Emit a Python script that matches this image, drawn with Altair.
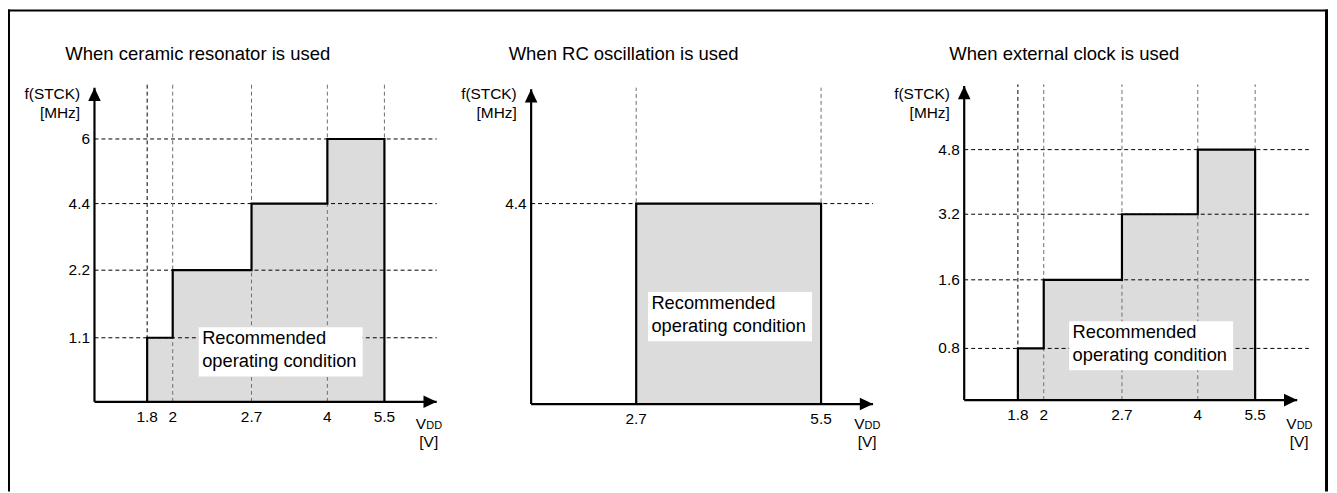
import altair as alt
import pandas as pd

# ---------------- data ----------------
TITLES = ["When ceramic resonator is used",
          "When RC oscillation is used",
          "When external clock is used"]
VOLTS = [[1.8, 2, 2.7, 4, 5.5],
         [2.7, 5.5],
         [1.8, 2, 2.7, 4, 5.5]]
FREQS = [[1.1, 2.2, 4.4, 6],
         [4.4],
         [0.8, 1.6, 3.2, 4.8]]
V_LABELS = [["1.8", "2", "2.7", "4", "5.5"],
            ["2.7", "5.5"],
            ["1.8", "2", "2.7", "4", "5.5"]]
F_LABELS = [["1.1", "2.2", "4.4", "6"],
            ["4.4"],
            ["0.8", "1.6", "3.2", "4.8"]]
Y_TITLE = ["f(STCK)", "[MHz]"]
X_TITLE_MAIN = "V"
X_TITLE_SUB = "DD"
X_UNIT = "[V]"
NOTE = ["Recommended", "operating condition"]
NOTE_V = [3.2, 4.12, 3.2]
NOTE_F = [0.857, 1.92, 0.831]

# axis extension values (origin, arrow tip, grid end)
X_ORIGIN = 1.0
X_ARROW = 6.3
X_GRID = 6.5
Y_ARROW = [7.5, 6.0, 6.0]
Y_GRID = [7.7, 6.2, 6.2]

# ---------------- layout (piecewise scale ranges, px) ----------------
X_RANGE = [
    [87, 140, 165.7, 245, 321.3, 378.7, 431.3, 431.3],
    [526.3, 632, 818, 870.3, 870.3],
    [962, 1016, 1042, 1120.7, 1197, 1254.7, 1297, 1308.7],
]
Y_RANGE = [
    [394.7, 330.3, 262.3, 195.3, 130.3, 78.7, 75.3],
    [397, 195.3, 80.3, 78.7],
    [393, 341, 272, 206, 141, 77, 75.3],
]
TITLE_DX = [-29.3, -22.6, -15]
VDD_DX = [-21, -19, -11]
UNIT_DX = [-8, -6, 2]

FONT = "Liberation Sans"
UP = "M0,-1L0.95,1L-0.95,1Z"
RIGHT = "M1,0L-1,-0.95L-1,0.95Z"
ARROW_SIZE = 177
ARROW_H = 6.65


def panel(i):
    volts, freqs = VOLTS[i], FREQS[i]
    xs = alt.Scale(domain=[X_ORIGIN] + volts + [X_ARROW, X_GRID],
                   range=X_RANGE[i], nice=False, zero=False)
    ys = alt.Scale(domain=[0] + freqs + [Y_ARROW[i], Y_GRID[i]],
                   range=Y_RANGE[i], nice=False, zero=False)

    def X(f):
        return alt.X(f, type="quantitative", scale=xs, axis=None)

    def Y(f):
        return alt.Y(f, type="quantitative", scale=ys, axis=None)

    steps = pd.DataFrame({"v0": volts[:-1], "v1": volts[1:], "f": freqs, "base": 0})
    fill = alt.Chart(steps).mark_rect(fill="#dcdcdc").encode(
        x=X("v0"), x2=alt.X2("v1"), y=Y("base"), y2=alt.Y2("f"))

    hg = pd.DataFrame({"f": freqs, "xa": X_ORIGIN, "xb": X_GRID})
    hgrid = alt.Chart(hg).mark_rule(color="black", strokeWidth=1, strokeDash=[4, 3]).encode(
        x=X("xa"), x2=alt.X2("xb"), y=Y("f"))

    vg = pd.DataFrame({"v": volts, "ya": 0, "yb": Y_GRID[i]})
    vgrid = alt.Chart(vg).mark_rule(strokeWidth=1, strokeDash=[4, 3]).encode(
        x=X("v"), y=Y("ya"), y2=alt.Y2("yb"),
        color=alt.condition(alt.datum.v == 1.8, alt.value("black"), alt.value("#6e6e6e")))

    pv = [volts[0]] + volts[:-1] + [volts[-1]]
    pf = [0] + freqs + [0]
    ol = pd.DataFrame({"v": pv, "f": pf, "i": list(range(len(pv)))})
    outline = alt.Chart(ol).mark_line(interpolate="step-after", color="black",
                                      strokeWidth=2.2).encode(
        x=X("v"), y=Y("f"), order=alt.Order("i:Q"))

    ax = pd.DataFrame({"xo": [X_ORIGIN], "xa": [X_ARROW], "yo": [0], "ya": [Y_ARROW[i]],
                       "ax": [NOTE_V[i]], "ay": [NOTE_F[i]]})
    xaxis = alt.Chart(ax).mark_rule(color="black", strokeWidth=2.2).encode(
        x=X("xo"), x2=alt.X2("xa"), y=Y("yo"))
    yaxis = alt.Chart(ax).mark_rule(color="black", strokeWidth=2.2).encode(
        x=X("xo"), y=Y("yo"), y2=alt.Y2("ya"))
    up = alt.Chart(ax).mark_point(shape=UP, filled=True, size=ARROW_SIZE, color="black",
                                  opacity=1, yOffset=ARROW_H).encode(x=X("xo"), y=Y("ya"))
    right = alt.Chart(ax).mark_point(shape=RIGHT, filled=True, size=ARROW_SIZE, color="black",
                                     opacity=1, xOffset=-ARROW_H).encode(x=X("xa"), y=Y("yo"))

    xl = pd.DataFrame({"v": volts, "label": V_LABELS[i], "base": 0})
    xlab = alt.Chart(xl).mark_text(font=FONT, fontSize=15.5, color="black", dy=15,
                                   baseline="middle").encode(
        x=X("v"), y=Y("base"), text="label:N")
    yl = pd.DataFrame({"f": freqs, "label": F_LABELS[i], "xo": X_ORIGIN})
    ylab = alt.Chart(yl).mark_text(font=FONT, fontSize=15.5, color="black", align="right",
                                   dx=-4.5, baseline="middle").encode(
        x=X("xo"), y=Y("f"), text="label:N")

    ytitle = alt.Chart(ax).mark_text(text=Y_TITLE, font=FONT, fontSize=15.5, color="black",
                                     align="right", baseline="middle", dx=-14.5,
                                     lineHeight=19.5).encode(x=X("xo"), y=alt.value(85))
    title = alt.Chart(ax).mark_text(text=TITLES[i], font=FONT, fontSize=18.6, color="black",
                                    align="left", baseline="middle",
                                    dx=TITLE_DX[i]).encode(x=X("xo"), y=alt.value(45))
    vmain = alt.Chart(ax).mark_text(text=X_TITLE_MAIN, font=FONT, fontSize=15.5, color="black",
                                    align="left", baseline="alphabetic",
                                    dx=VDD_DX[i]).encode(x=X("xa"), y=alt.value(422.5))
    vsub = alt.Chart(ax).mark_text(text=X_TITLE_SUB, font=FONT, fontSize=11, color="black",
                                   align="left", baseline="alphabetic",
                                   dx=VDD_DX[i] + 10.5).encode(x=X("xa"), y=alt.value(422.5))
    vunit = alt.Chart(ax).mark_text(text=X_UNIT, font=FONT, fontSize=15.5, color="black",
                                    align="center", baseline="middle",
                                    dx=UNIT_DX[i]).encode(x=X("xa"), y=alt.value(435))

    box = alt.Chart(ax).mark_rect(fill="white", xOffset=-82.5, x2Offset=82.5,
                                  yOffset=-24.7, y2Offset=24.7).encode(
        x=X("ax"), x2=alt.X2("ax"), y=Y("ay"), y2=alt.Y2("ay"))
    note = alt.Chart(ax).mark_text(text=NOTE, font=FONT, fontSize=18.4, color="black",
                                   align="left", baseline="middle", dx=-79, dy=-13.5,
                                   lineHeight=23).encode(x=X("ax"), y=Y("ay"))

    return alt.layer(fill, hgrid, vgrid, outline, xaxis, yaxis, up, right,
                     xlab, ylab, ytitle, title, vmain, vsub, vunit, box, note)


W, H = 1327, 485
one = pd.DataFrame({"k": [0]})
frame_top = alt.Chart(one).mark_rule(color="black", strokeWidth=2).encode(
    x=alt.value(0), x2=alt.value(W + 1), y=alt.value(1))
frame_left = alt.Chart(one).mark_rule(color="black", strokeWidth=2).encode(
    x=alt.value(1), y=alt.value(0), y2=alt.value(H))
frame_right = alt.Chart(one).mark_rule(color="black", strokeWidth=3).encode(
    x=alt.value(W - 0.5), y=alt.value(0), y2=alt.value(H))

chart = alt.layer(frame_top, frame_left, frame_right, panel(0), panel(1), panel(2)).resolve_scale(
    x="independent", y="independent"
).properties(
    width=W, height=H,
    padding={"left": 0, "top": 0, "right": 2, "bottom": 0},
    autosize=alt.AutoSizeParams(type="none"),
).configure_view(stroke=None)

chart.save("out.html", embed_options={"renderer": "svg", "actions": False})
